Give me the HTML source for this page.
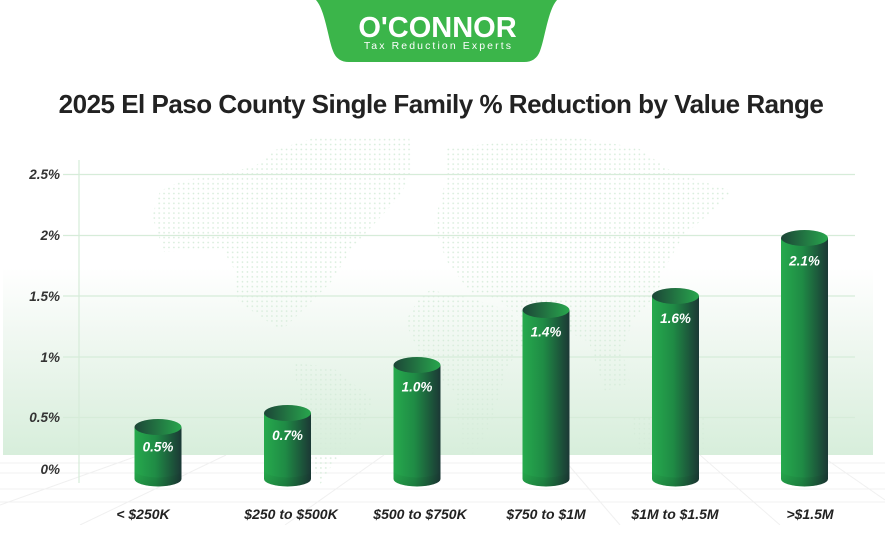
<!DOCTYPE html>
<html>
<head>
<meta charset="utf-8">
<style>
  html,body{margin:0;padding:0;background:#fff;}
  body{width:885px;height:549px;overflow:hidden;position:relative;font-family:"Liberation Sans",Arial,sans-serif;}
  svg{position:absolute;left:0;top:0;}
</style>
</head>
<body>
<svg width="885" height="549" viewBox="0 0 885 549" xmlns="http://www.w3.org/2000/svg">
  <defs>
    <linearGradient id="band" x1="0" y1="0" x2="0" y2="1">
      <stop offset="0" stop-color="#ffffff"/>
      <stop offset="0.35" stop-color="#f1f8f2"/>
      <stop offset="1" stop-color="#d7eedb"/>
    </linearGradient>
    <linearGradient id="body" x1="0" y1="0" x2="1" y2="0">
      <stop offset="0" stop-color="#26aa4d"/>
      <stop offset="0.45" stop-color="#1f8b45"/>
      <stop offset="1" stop-color="#1b3835"/>
    </linearGradient>
    <linearGradient id="topg" x1="0" y1="0" x2="1" y2="0">
      <stop offset="0" stop-color="#1c4537"/>
      <stop offset="1" stop-color="#28a64d"/>
    </linearGradient>
    <linearGradient id="shade" x1="0" y1="0" x2="0" y2="1">
      <stop offset="0" stop-color="#000" stop-opacity="0"/>
      <stop offset="1" stop-color="#000" stop-opacity="0.12"/>
    </linearGradient>
    <pattern id="dots" x="0" y="0" width="4.9" height="4.9" patternUnits="userSpaceOnUse">
      <circle cx="2.4" cy="2.4" r="0.85" fill="#d6ecda"/>
    </pattern>
    <clipPath id="floorclip"><rect x="0" y="455" width="885" height="70"/></clipPath>
  </defs>

  <!-- background band -->
  <rect x="3" y="268" width="870" height="187" fill="url(#band)"/>

  <!-- floor perspective grid -->
  <g clip-path="url(#floorclip)" stroke="#f0f0f0" stroke-width="1" fill="none">
    <line x1="0" y1="463" x2="885" y2="463"/>
    <line x1="0" y1="473" x2="885" y2="473"/>
    <line x1="0" y1="489" x2="885" y2="489"/>
    <line x1="0" y1="502" x2="885" y2="502"/>
    <line x1="226" y1="455" x2="80" y2="525"/>
    <line x1="140" y1="455" x2="0" y2="505"/>
    <line x1="384" y1="455" x2="285" y2="525"/>
    <line x1="560" y1="455" x2="620" y2="525"/>
    <line x1="700" y1="455" x2="780" y2="525"/>
    <line x1="820" y1="455" x2="885" y2="500"/>
  </g>

  <!-- world map dots -->
  <g fill="url(#dots)">
    <polygon points="152,216 160,191 181,181 254,167 275,150 320,136 409,136 413,167 401,195 352,248 332,281 303,310 282,330 262,318 238,301 234,269 222,248 164,252"/>
    <polygon points="292,363 332,367 373,399 360,432 332,465 320,485 311,457 303,408"/>
    <polygon points="446,148 507,142 569,136 638,148 671,171 732,191 711,212 683,236 662,273 658,293 634,318 622,350 630,383 605,391 589,342 548,322 520,318 500,300 470,292 446,260 434,224 446,179"/>
    <polygon points="405,322 426,367 454,391 462,448 475,457 491,424 507,367 532,334 507,310 470,298 430,290 418,300"/>
    <polygon points="630,416 707,416 707,452 638,452"/>
  </g>

  <!-- grid lines -->
  <g stroke="#d6ecd9" stroke-width="1.3">
    <line x1="63" y1="174.5" x2="855" y2="174.5"/>
    <line x1="63" y1="235.5" x2="855" y2="235.5"/>
    <line x1="63" y1="296" x2="855" y2="296"/>
    <line x1="63" y1="357" x2="855" y2="357"/>
    <line x1="63" y1="417.5" x2="855" y2="417.5"/>
  </g>
  <line x1="79" y1="160" x2="79" y2="483" stroke="#d6ecd9" stroke-width="1.2"/>

  <!-- y labels -->
  <g font-family="'Liberation Sans',Arial,sans-serif" font-weight="bold" font-style="italic" font-size="13.5" fill="#333" text-anchor="end">
    <text x="60" y="179">2.5%</text>
    <text x="60" y="240">2%</text>
    <text x="60" y="301">1.5%</text>
    <text x="60" y="362">1%</text>
    <text x="60" y="422">0.5%</text>
    <text x="60" y="474">0%</text>
  </g>

  <!-- bars -->
  <g>
    <path d="M134.5,427 L134.5,479 A23.5,7.5 0 0 0 181.5,479 L181.5,427 Z" fill="url(#body)"/>
    <path d="M134.5,470 L134.5,479 A23.5,7.5 0 0 0 181.5,479 L181.5,470 A23.5,7.5 0 0 1 134.5,470 Z" fill="url(#shade)"/>
    <ellipse cx="158" cy="427" rx="23.5" ry="8" fill="url(#topg)"/>

    <path d="M264,413 L264,479 A23.5,7.5 0 0 0 311,479 L311,413 Z" fill="url(#body)"/>
    <path d="M264,470 L264,479 A23.5,7.5 0 0 0 311,479 L311,470 A23.5,7.5 0 0 1 264,470 Z" fill="url(#shade)"/>
    <ellipse cx="287.5" cy="413" rx="23.5" ry="8" fill="url(#topg)"/>

    <path d="M393.5,365 L393.5,479 A23.5,7.5 0 0 0 440.5,479 L440.5,365 Z" fill="url(#body)"/>
    <path d="M393.5,470 L393.5,479 A23.5,7.5 0 0 0 440.5,479 L440.5,470 A23.5,7.5 0 0 1 393.5,470 Z" fill="url(#shade)"/>
    <ellipse cx="417" cy="365" rx="23.5" ry="8" fill="url(#topg)"/>

    <path d="M522.5,310 L522.5,479 A23.5,7.5 0 0 0 569.5,479 L569.5,310 Z" fill="url(#body)"/>
    <path d="M522.5,470 L522.5,479 A23.5,7.5 0 0 0 569.5,479 L569.5,470 A23.5,7.5 0 0 1 522.5,470 Z" fill="url(#shade)"/>
    <ellipse cx="546" cy="310" rx="23.5" ry="8" fill="url(#topg)"/>

    <path d="M652,296 L652,479 A23.5,7.5 0 0 0 699,479 L699,296 Z" fill="url(#body)"/>
    <path d="M652,470 L652,479 A23.5,7.5 0 0 0 699,479 L699,470 A23.5,7.5 0 0 1 652,470 Z" fill="url(#shade)"/>
    <ellipse cx="675.5" cy="296" rx="23.5" ry="8" fill="url(#topg)"/>

    <path d="M781,238 L781,479 A23.5,7.5 0 0 0 828,479 L828,238 Z" fill="url(#body)"/>
    <path d="M781,470 L781,479 A23.5,7.5 0 0 0 828,479 L828,470 A23.5,7.5 0 0 1 781,470 Z" fill="url(#shade)"/>
    <ellipse cx="804.5" cy="238" rx="23.5" ry="8" fill="url(#topg)"/>
  </g>

  <!-- value labels -->
  <g font-family="'Liberation Sans',Arial,sans-serif" font-weight="bold" font-style="italic" font-size="13.5" fill="#ffffff" text-anchor="middle">
    <text x="158" y="451.5">0.5%</text>
    <text x="287.5" y="440">0.7%</text>
    <text x="417" y="391.5">1.0%</text>
    <text x="546" y="336.5">1.4%</text>
    <text x="675.5" y="323">1.6%</text>
    <text x="804.5" y="265.5">2.1%</text>
  </g>

  <!-- x labels -->
  <g font-family="'Liberation Sans',Arial,sans-serif" font-weight="bold" font-style="italic" font-size="14" fill="#222" text-anchor="middle">
    <text x="143" y="519">&lt; $250K</text>
    <text x="291" y="519">$250 to $500K</text>
    <text x="420" y="519">$500 to $750K</text>
    <text x="546" y="519">$750 to $1M</text>
    <text x="675" y="519">$1M to $1.5M</text>
    <text x="810" y="519">&gt;$1.5M</text>
  </g>

  <!-- title -->
  <text x="441" y="113" text-anchor="middle" font-family="'Liberation Sans',Arial,sans-serif" font-weight="bold" font-size="26" letter-spacing="-0.5" fill="#222">2025 El Paso County Single Family % Reduction by Value Range</text>

  <!-- logo -->
  <path d="M316,0 L557,0 C548,10 545,38 540,51 Q536,62 524,62 L349,62 Q337,62 333,51 C328,38 325,10 316,0 Z" fill="#3bb54a"/>
  <text x="437.5" y="37" text-anchor="middle" font-family="'Liberation Sans',Arial,sans-serif" font-weight="bold" font-size="29" fill="#ffffff">O'CONNOR</text>
  <text x="438.5" y="49" text-anchor="middle" font-family="'Liberation Sans',Arial,sans-serif" font-size="10.5" letter-spacing="2.1" fill="#ffffff">Tax Reduction Experts</text>
</svg>
</body>
</html>
